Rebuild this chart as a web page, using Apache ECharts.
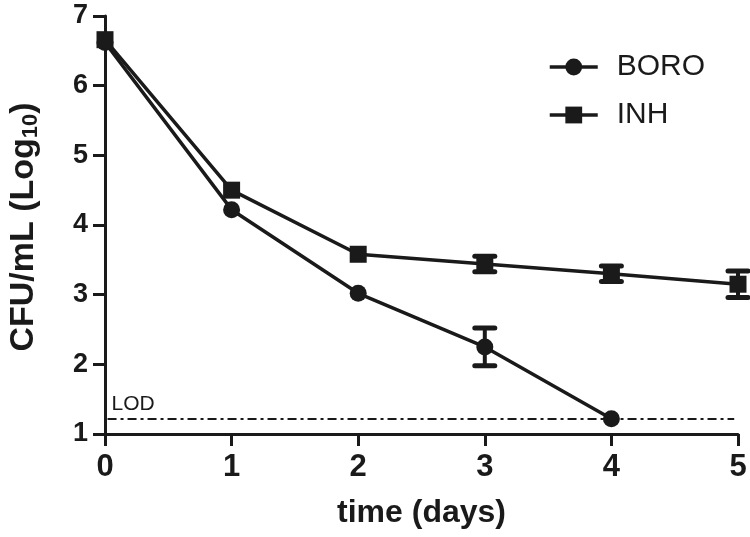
<!DOCTYPE html>
<html><head><meta charset="utf-8">
<script src="https://cdn.jsdelivr.net/npm/echarts@6/dist/echarts.min.js"></script>
<style>html,body{margin:0;padding:0;background:#fff}#c{width:750px;height:537px}</style>
</head><body><div id="c"></div>
<script>
var days = [0, 1, 2, 3, 4, 5];
var boro = [6.62, 4.22, 3.02, 2.25, 1.22, null];
var boroErr = [null, null, null, 0.27, null, null];
var inh = [6.66, 4.50, 3.58, 3.44, 3.30, 3.15];
var inhErr = [null, null, null, 0.11, 0.11, 0.19];
var lod = 1.22;
var xTicks = ['0', '1', '2', '3', '4', '5'];
var yTicks = ['1', '2', '3', '4', '5', '6', '7'];

var C = '#1a1a1a';
var FONT = "'Liberation Sans', Arial, sans-serif";

function pairs(vals) { return days.map(function (d, i) { return [d, vals[i]]; }).filter(function (p) { return p[1] != null; }); }
function errData(vals, errs) { return days.map(function (d, i) { return [d, vals[i], errs[i]]; }).filter(function (p) { return p[1] != null && p[2] != null; }); }

function renderErr(params, api) {
  var x = api.value(0), y = api.value(1), e = api.value(2);
  var top = api.coord([x, y + e]), bot = api.coord([x, y - e]);
  var hw = 10;
  var st = { stroke: C, lineWidth: 4 };
  var cap = { stroke: C, lineWidth: 5, lineCap: 'round' };
  return { type: 'group', children: [
    { type: 'line', shape: { x1: top[0], y1: top[1], x2: bot[0], y2: bot[1] }, style: st },
    { type: 'line', shape: { x1: top[0] - hw, y1: top[1], x2: top[0] + hw, y2: top[1] }, style: cap },
    { type: 'line', shape: { x1: bot[0] - hw, y1: bot[1], x2: bot[0] + hw, y2: bot[1] }, style: cap }
  ] };
}

var chart = echarts.init(document.getElementById('c'));
chart.setOption({
  animation: false,
  backgroundColor: '#fff',
  grid: { left: 105, right: 12, top: 16, bottom: 103 },
  legend: {
    orient: 'vertical', left: 543, top: 46,
    itemWidth: 48, itemHeight: 21, itemGap: 16,
    lineStyle: { width: 3.5, color: C },
    itemStyle: { color: C },
    textStyle: { fontFamily: FONT, fontSize: 30, color: C, lineHeight: 32, padding: [0, 0, 0, 14] },
    data: ['BORO', 'INH']
  },
  xAxis: {
    type: 'value', min: 0, max: 5, interval: 1,
    name: 'time (days)', nameLocation: 'middle', nameGap: 63,
    nameTextStyle: { fontFamily: FONT, fontSize: 32, fontWeight: 'bold', color: C },
    axisLine: { show: true, lineStyle: { color: C, width: 3 } },
    axisTick: { show: true, length: 12, lineStyle: { color: C, width: 3 } },
    axisLabel: { fontFamily: FONT, fontSize: 31, fontWeight: 'bold', color: C, margin: 18,
      formatter: function (v) { return xTicks[Math.round(v)]; } },
    splitLine: { show: false }
  },
  yAxis: {
    type: 'value', min: 1, max: 7, interval: 1,
    axisLine: { show: true, lineStyle: { color: C, width: 3 } },
    axisTick: { show: true, length: 12, lineStyle: { color: C, width: 3 } },
    axisLabel: { fontFamily: FONT, fontSize: 27, fontWeight: 'bold', color: C, margin: 17,
      formatter: function (v) { return yTicks[Math.round(v) - 1]; } },
    splitLine: { show: false }
  },
  graphic: [{
    type: 'text',
    x: 24, y: 227,
    rotation: Math.PI / 2,
    style: {
      text: '{a|CFU/mL (Log}{s|10}{a|)}',
      align: 'center', verticalAlign: 'middle',
      rich: {
        a: { fontFamily: FONT, fontSize: 34, fontWeight: 'bold', fill: C },
        s: { fontFamily: FONT, fontSize: 22, fontWeight: 'bold', fill: C, padding: [14, 0, 0, 0] }
      },
      fill: C
    }
  }],
  series: [
    {
      name: 'BORO', type: 'line', data: pairs(boro),
      symbol: 'circle', symbolSize: 17,
      lineStyle: { color: C, width: 3.5 }, itemStyle: { color: C }, z: 3,
      markLine: {
        silent: true, symbol: 'none',
        lineStyle: { color: C, width: 2, type: [9, 4, 3, 4] },
        label: { show: true, position: 'insideStartTop', formatter: 'LOD', fontFamily: FONT, fontSize: 21, color: C, distance: [4, 4] },
        data: [[{ coord: [0.02, lod] }, { coord: [4.97, lod] }]]
      }
    },
    {
      name: 'INH', type: 'line', data: pairs(inh),
      symbol: 'rect', symbolSize: 17,
      lineStyle: { color: C, width: 3.5 }, itemStyle: { color: C }, z: 4
    },
    { name: 'BORO err', type: 'custom', renderItem: renderErr, data: errData(boro, boroErr), encode: { x: 0, y: 1 }, z: 2, silent: true },
    { name: 'INH err', type: 'custom', renderItem: renderErr, data: errData(inh, inhErr), encode: { x: 0, y: 1 }, z: 2, silent: true }
  ]
});
</script>
</body></html>
